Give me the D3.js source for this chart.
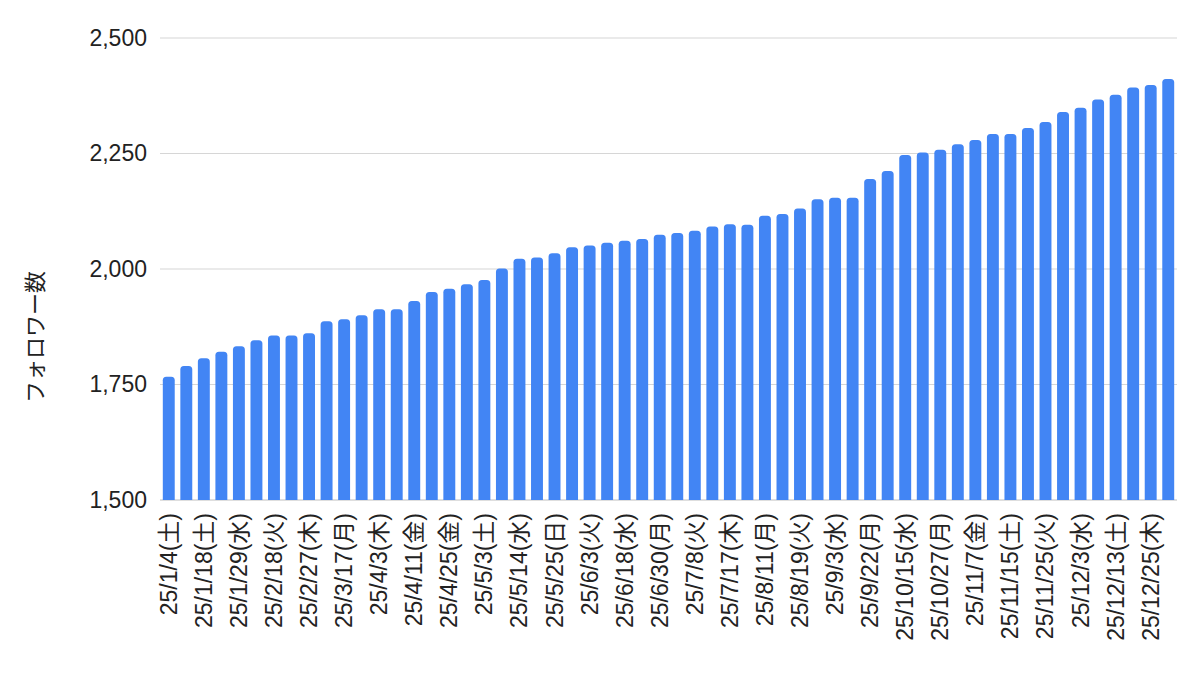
<!DOCTYPE html>
<html>
<head>
<meta charset="utf-8">
<script src="https://cdn.jsdelivr.net/npm/d3@7.9.0/dist/d3.min.js"></script>
<style>
  body { margin: 0; background: #fff; }
  text { font-family: "Liberation Sans", Arial, "Noto Sans CJK JP", sans-serif; fill: #222; }
</style>
</head>
<body>
<div id="chart"></div>
<script>
// follower count per observation, left to right (58 bars)
const followers = [
  1767, 1790, 1807, 1821, 1833, 1846, 1856, 1856, 1861, 1887,
  1891, 1900, 1913, 1913, 1931, 1950, 1957, 1967, 1976, 2001,
  2022, 2025, 2034, 2047, 2051, 2057, 2061, 2065, 2074, 2078,
  2083, 2092, 2097, 2096, 2115, 2119, 2131, 2151, 2154, 2154,
  2195, 2212, 2247, 2252, 2258, 2270, 2279, 2292, 2292, 2305,
  2318, 2340, 2349, 2367, 2377, 2393, 2398, 2411
];

// only every other bar carries a label in the chart
const tickLabels = [
  "25/1/4(土)", "25/1/18(土)", "25/1/29(水)", "25/2/18(火)", "25/2/27(木)",
  "25/3/17(月)", "25/4/3(木)", "25/4/11(金)", "25/4/25(金)", "25/5/3(土)",
  "25/5/14(水)", "25/5/25(日)", "25/6/3(火)", "25/6/18(水)", "25/6/30(月)",
  "25/7/8(火)", "25/7/17(木)", "25/8/11(月)", "25/8/19(火)", "25/9/3(水)",
  "25/9/22(月)", "25/10/15(水)", "25/10/27(月)", "25/11/7(金)", "25/11/15(土)",
  "25/11/25(火)", "25/12/3(水)", "25/12/13(土)", "25/12/25(木)"
];

const yTicks = [1500, 1750, 2000, 2250, 2500];
const yTitle = "フォロワー数";

const width = 1200;
const height = 679;
const margin = { top: 38, right: 23, bottom: 179, left: 160 };

const svg = d3.select('#chart')
  .append('svg')
  .attr('width', width)
  .attr('height', height);

const xScale = d3.scaleBand()
  .domain(d3.range(followers.length))
  .range([margin.left, width - margin.right])
  .paddingInner(0.32)
  .paddingOuter(0.16);

const yScale = d3.scaleLinear()
  .domain([1500, 2500])
  .range([height - margin.bottom, margin.top]);

// gridlines
svg.append('g')
  .selectAll('line')
  .data(yTicks)
  .join('line')
  .attr('x1', margin.left)
  .attr('x2', width - margin.right)
  .attr('y1', d => yScale(d))
  .attr('y2', d => yScale(d))
  .attr('stroke', d => d === 1500 ? '#bdbdbd' : '#d6d6d6')
  .attr('stroke-width', 1.2);

// y axis labels
const yAxis = d3.axisLeft(yScale)
  .tickValues(yTicks)
  .tickFormat(d3.format(','))
  .tickSize(0)
  .tickPadding(13);

svg.append('g')
  .attr('transform', `translate(${margin.left}, 0)`)
  .call(yAxis)
  .call(g => g.select('.domain').remove())
  .selectAll('text')
  .style('font-size', '23px')
  .attr('fill', '#222');

// bars with rounded tops
const r = 3.5;
const bw = xScale.bandwidth();
svg.append('g')
  .selectAll('path')
  .data(followers)
  .join('path')
  .attr('fill', '#4285f4')
  .attr('d', (d, i) => {
    const x0 = xScale(i);
    const y0 = yScale(d);
    const yb = yScale(1500);
    return `M${x0},${yb}V${y0 + r}Q${x0},${y0} ${x0 + r},${y0}H${x0 + bw - r}Q${x0 + bw},${y0} ${x0 + bw},${y0 + r}V${yb}Z`;
  });

// x axis labels, every other bar
const xAxis = d3.axisBottom(xScale)
  .tickValues(d3.range(0, followers.length, 2))
  .tickFormat(i => tickLabels[i / 2])
  .tickSize(0)
  .tickPadding(0);

svg.append('g')
  .attr('transform', `translate(0, ${yScale(1500)})`)
  .call(xAxis)
  .call(g => g.select('.domain').remove())
  .selectAll('text')
  .style('font-size', '23px')
  .attr('fill', '#222')
  .attr('text-anchor', 'end')
  .attr('dy', null)
  .attr('y', 0)
  .attr('transform', 'translate(8, 13) rotate(-90)');

// y axis title
svg.append('text')
  .attr('transform', `translate(43, ${(yScale(1500) + yScale(2500)) / 2 + 68}) rotate(-90)`)
  .attr('text-anchor', 'middle')
  .style('font-size', '22px')
  .attr('fill', '#222')
  .text(yTitle);
</script>
</body>
</html>
